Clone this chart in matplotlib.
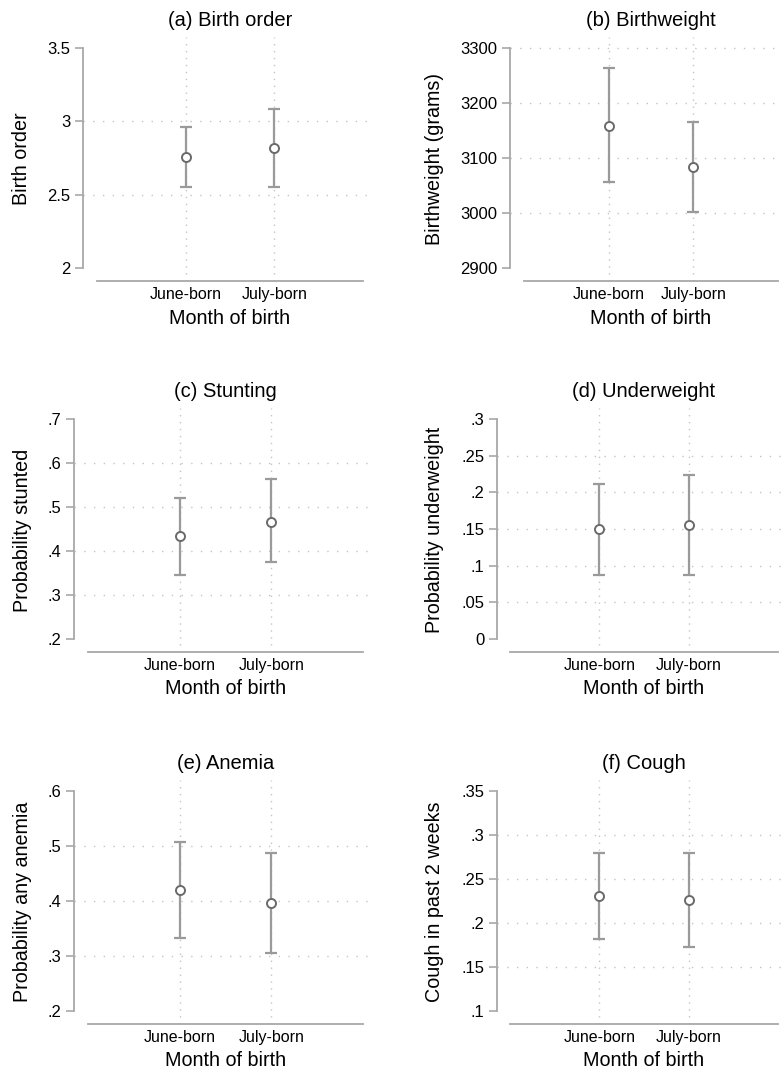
import matplotlib
matplotlib.use("Agg")
import matplotlib.pyplot as plt

plt.rcParams["font.family"] = ["Liberation Sans", "DejaVu Sans"]

W, H = 782, 1070

groups = ["June-born", "July-born"]
titles = ["(a) Birth order", "(b) Birthweight", "(c) Stunting",
          "(d) Underweight", "(e) Anemia", "(f) Cough"]
ylabels = ["Birth order", "Birthweight (grams)", "Probability stunted",
           "Probability underweight", "Probability any anemia",
           "Cough in past 2 weeks"]

# point estimates and 95% CI bounds (June, July)
means = [[2.757, 2.818], [3159, 3083], [0.433, 0.467],
         [0.150, 0.156], [0.420, 0.397], [0.231, 0.226]]
lower = [[2.55, 2.55], [3056, 3002], [0.346, 0.374],
         [0.087, 0.087], [0.332, 0.305], [0.182, 0.173]]
upper = [[2.96, 3.085], [3263, 3165], [0.520, 0.563],
         [0.211, 0.224], [0.507, 0.488], [0.280, 0.279]]

yticks = [[2, 2.5, 3, 3.5], [2900, 3000, 3100, 3200, 3300],
          [0.2, 0.3, 0.4, 0.5, 0.6, 0.7],
          [0, 0.05, 0.1, 0.15, 0.2, 0.25, 0.3],
          [0.2, 0.3, 0.4, 0.5, 0.6],
          [0.1, 0.15, 0.2, 0.25, 0.3, 0.35]]
yticklabels = [["2", "2.5", "3", "3.5"],
               ["2900", "3000", "3100", "3200", "3300"],
               [".2", ".3", ".4", ".5", ".6", ".7"],
               ["0", ".05", ".1", ".15", ".2", ".25", ".3"],
               [".2", ".3", ".4", ".5", ".6"],
               [".1", ".15", ".2", ".25", ".3", ".35"]]
# which tick values get a horizontal grid line
gridvals = [[2.5, 3], [3000, 3100, 3200, 3300], [0.3, 0.4, 0.5, 0.6],
            [0.05, 0.1, 0.15, 0.2, 0.25], [0.3, 0.4, 0.5],
            [0.15, 0.2, 0.25, 0.3]]

# panel boxes in pixels: y-axis x, right edge, top, x-axis y, x-line start, x-line end
boxes = [(83, 375, 37, 281, 97, 363), (510, 782, 37, 281, 524, 778),
         (74, 375, 408, 652, 88, 363), (497, 782, 408, 652, 510, 778),
         (74, 375, 780, 1024, 88, 363), (497, 782, 780, 1024, 510, 778)]
ylab_x = [22, 435, 23, 435, 23, 435]

AXC = "#a8a8a8"
GRIDC = "#c4c4c4"
BARC = "#9a9a9a"
MKC = "#6a6a6a"

fig = plt.figure(figsize=(W / 100, H / 100), dpi=100)

for i in range(6):
    yl, xr, yt, yb, x0, x1 = boxes[i]
    ax = fig.add_axes([yl / W, 1 - yb / H, (xr - yl) / W, (yb - yt) / H])

    # x data: groups at 1, 2 on a 0..3 axis line
    ppx = (x1 - x0) / 3.0
    xlo = -(x0 - yl) / ppx
    xhi = 3 + (xr - x1) / ppx
    ax.set_xlim(xlo, xhi)

    t = yticks[i]
    r = t[-1] - t[0]
    ax.set_ylim(t[0] - 13 / 220 * r, t[-1] + 11 / 220 * r)

    xs = [1, 2]
    for v in gridvals[i]:
        ax.axhline(v, color=GRIDC, lw=1.0, ls=(0, (1, 6)), zorder=1)
    for x in xs:
        ax.axvline(x, color=GRIDC, lw=1.0, ls=(0, (1, 4)), zorder=1)

    yerr = [[m - lo for m, lo in zip(means[i], lower[i])],
            [u - m for m, u in zip(means[i], upper[i])]]
    ax.errorbar(xs, means[i], yerr=yerr, fmt="none", ecolor=BARC,
                elinewidth=1.6, capsize=4, capthick=1.6, zorder=2)
    ax.plot(xs, means[i], "o", ms=6.5, mfc="white", mec=MKC, mew=1.4, zorder=3)

    for s in ["top", "right"]:
        ax.spines[s].set_visible(False)
    ax.spines["left"].set_bounds(t[0], t[-1])
    ax.spines["bottom"].set_bounds(0, 3)
    for s in ["left", "bottom"]:
        ax.spines[s].set_color(AXC)
        ax.spines[s].set_linewidth(1.3)

    ax.set_yticks(t)
    ax.set_yticklabels(yticklabels[i])
    ax.set_xticks(xs)
    ax.set_xticklabels(groups)
    ax.tick_params(axis="y", length=6, width=1.2, color=AXC, pad=3, labelsize=12)
    ax.tick_params(axis="x", length=0, pad=4, labelsize=11.5)

    frac = (1.5 - xlo) / (xhi - xlo)
    ax.set_title(titles[i], fontsize=14.5, x=frac, pad=8)
    ax.set_xlabel("Month of birth", fontsize=14.2)
    ax.xaxis.set_label_coords(frac, -37 / (yb - yt), transform=ax.transAxes)
    ax.xaxis.label.set_va("center")
    ax.set_ylabel(ylabels[i], fontsize=14.2)
    ax.yaxis.set_label_coords(ylab_x[i] / W, 1 - (yt + yb) / 2 / H,
                              transform=fig.transFigure)
    ax.yaxis.label.set_va("center")
    ax.patch.set_visible(False)

fig.savefig("out.png", dpi=100, facecolor="white")
